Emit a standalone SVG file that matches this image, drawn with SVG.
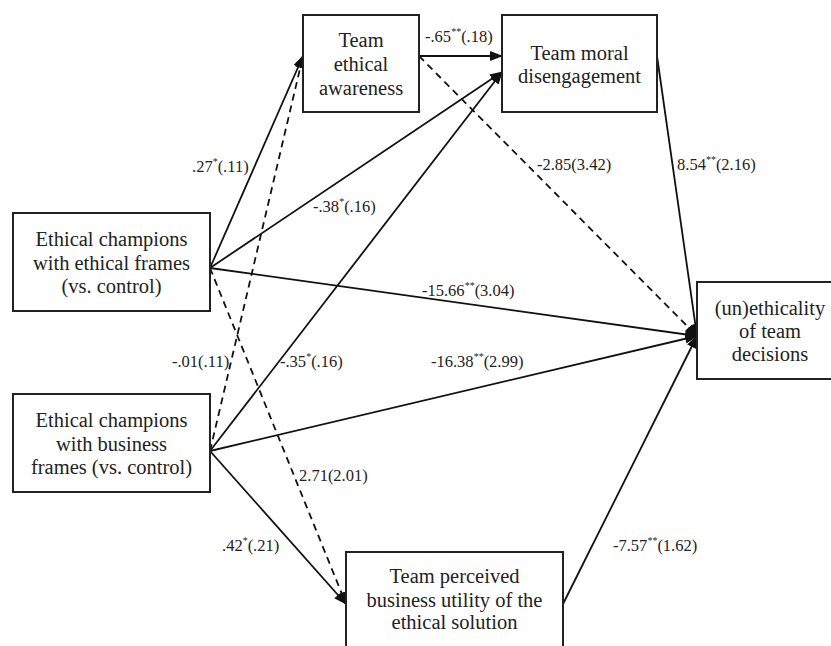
<svg xmlns="http://www.w3.org/2000/svg" width="831" height="646" viewBox="0 0 831 646">
<style>
.box{fill:#fff;stroke:#222;stroke-width:2}
.nt{font-size:20.5px;fill:#222;text-anchor:middle}
.lb{font-size:16.5px;fill:#222}
.sup{font-size:10px}
.ln{stroke:#111;stroke-width:1.8;fill:none;marker-end:url(#ah)}
.dash{stroke-dasharray:7,5}
</style>
<defs>
<marker id="ah" markerUnits="userSpaceOnUse" markerWidth="13" markerHeight="10" refX="12" refY="5" orient="auto">
<path d="M0,0 L13,5 L0,10 Z" fill="#111"/>
</marker>
</defs>
<rect width="831" height="646" fill="#fff"/>
<g id="connectors">
<line class="ln" x1="210" y1="268" x2="303" y2="56"/>
<line class="ln dash" x1="210" y1="451" x2="303" y2="56"/>
<line class="ln" x1="210" y1="268" x2="502" y2="72"/>
<line class="ln" x1="210" y1="451" x2="502" y2="72"/>
<line class="ln" x1="419" y1="56" x2="502" y2="56"/>
<line class="ln dash" x1="419" y1="56" x2="697" y2="336"/>
<line class="ln" x1="657" y1="56" x2="697" y2="336"/>
<line class="ln" x1="210" y1="268" x2="697" y2="336"/>
<line class="ln" x1="210" y1="451" x2="697" y2="336"/>
<line class="ln" x1="563" y1="604" x2="697" y2="336"/>
<line class="ln" x1="210" y1="451" x2="346" y2="604"/>
<line class="ln dash" x1="210" y1="268" x2="346" y2="604"/>
</g>
<g id="labels" font-family="Liberation Serif, Times New Roman, serif">
<text class="lb" x="192" y="172">.27<tspan class="sup" dy="-7">*</tspan><tspan dy="7">(.11)</tspan></text>
<text class="lb" x="313" y="212">-.38<tspan class="sup" dy="-7">*</tspan><tspan dy="7">(.16)</tspan></text>
<text class="lb" x="425" y="42">-.65<tspan class="sup" dy="-7">**</tspan><tspan dy="7">(.18)</tspan></text>
<text class="lb" x="537" y="170">-2.85(3.42)</text>
<text class="lb" x="677" y="170">8.54<tspan class="sup" dy="-7">**</tspan><tspan dy="7">(2.16)</tspan></text>
<text class="lb" x="422" y="296">-15.66<tspan class="sup" dy="-7">**</tspan><tspan dy="7">(3.04)</tspan></text>
<text class="lb" x="431" y="367">-16.38<tspan class="sup" dy="-7">**</tspan><tspan dy="7">(2.99)</tspan></text>
<text class="lb" x="172" y="367">-.01(.11)</text>
<text class="lb" x="280" y="367">-.35<tspan class="sup" dy="-7">*</tspan><tspan dy="7">(.16)</tspan></text>
<text class="lb" x="299" y="481">2.71(2.01)</text>
<text class="lb" x="222" y="551">.42<tspan class="sup" dy="-7">*</tspan><tspan dy="7">(.21)</tspan></text>
<text class="lb" x="613" y="551">-7.57<tspan class="sup" dy="-7">**</tspan><tspan dy="7">(1.62)</tspan></text>
</g>
<g font-family="Liberation Serif, Times New Roman, serif">
<g id="node-tea">
<rect class="box" x="303" y="15" width="116" height="97"/>
<text class="nt" x="361" y="47">Team</text>
<text class="nt" x="361" y="71">ethical</text>
<text class="nt" x="361" y="95">awareness</text>
</g>
<g id="node-tmd">
<rect class="box" x="502" y="15" width="155" height="97"/>
<text class="nt" x="579.5" y="60">Team moral</text>
<text class="nt" x="579.5" y="83">disengagement</text>
</g>
<g id="node-ethical">
<rect class="box" x="13" y="213" width="197" height="98"/>
<text class="nt" x="111.5" y="246">Ethical champions</text>
<text class="nt" x="111.5" y="270">with ethical frames</text>
<text class="nt" x="111.5" y="293">(vs. control)</text>
</g>
<g id="node-business">
<rect class="box" x="13" y="394" width="197" height="98"/>
<text class="nt" x="111.5" y="427">Ethical champions</text>
<text class="nt" x="111.5" y="451">with business</text>
<text class="nt" x="111.5" y="474">frames (vs. control)</text>
</g>
<g id="node-uneth">
<rect class="box" x="697" y="282" width="146" height="97"/>
<text class="nt" x="770" y="315">(un)ethicality</text>
<text class="nt" x="770" y="338">of team</text>
<text class="nt" x="770" y="361">decisions</text>
</g>
<g id="node-tpbu">
<rect class="box" x="346" y="552" width="217" height="110"/>
<text class="nt" x="454.5" y="583">Team perceived</text>
<text class="nt" x="454.5" y="607">business utility of the</text>
<text class="nt" x="454.5" y="629">ethical solution</text>
</g>
</g>
</svg>
